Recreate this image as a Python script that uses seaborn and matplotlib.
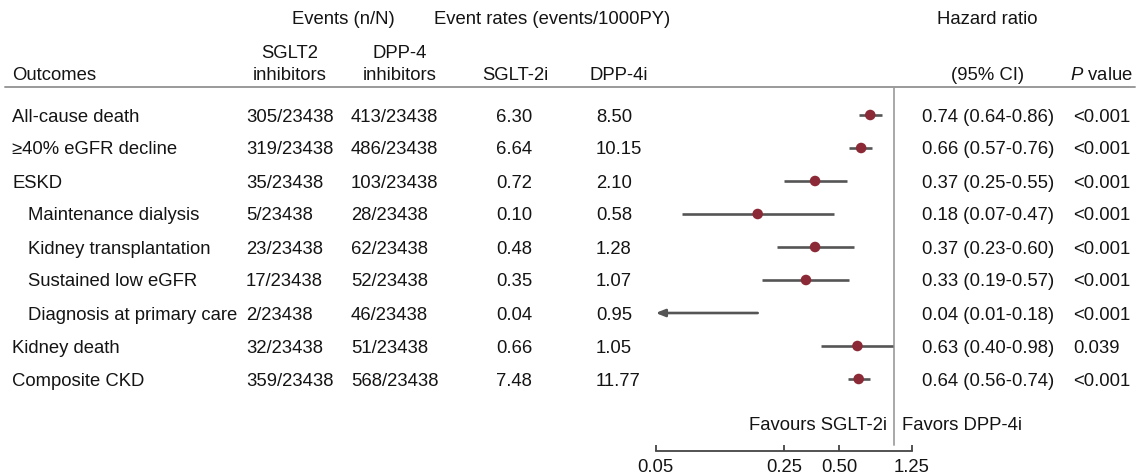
import numpy as np
import pandas as pd
import matplotlib
matplotlib.use("Agg")
import matplotlib.pyplot as plt
import matplotlib.transforms as mtransforms
from matplotlib.lines import Line2D
from matplotlib.ticker import NullLocator
import seaborn as sns

# ---------------- data ----------------
outcomes = ["All-cause death", "\u226540% eGFR decline", "ESKD", "Maintenance dialysis",
            "Kidney transplantation", "Sustained low eGFR", "Diagnosis at primary care",
            "Kidney death", "Composite CKD"]
sub_level = [0, 0, 0, 1, 1, 1, 1, 0, 0]
events_sglt2 = ["305/23438", "319/23438", "35/23438", "5/23438", "23/23438", "17/23438",
                "2/23438", "32/23438", "359/23438"]
events_dpp4 = ["413/23438", "486/23438", "103/23438", "28/23438", "62/23438", "52/23438",
               "46/23438", "51/23438", "568/23438"]
rate_sglt2 = ["6.30", "6.64", "0.72", "0.10", "0.48", "0.35", "0.04", "0.66", "7.48"]
rate_dpp4 = ["8.50", "10.15", "2.10", "0.58", "1.28", "1.07", "0.95", "1.05", "11.77"]
hr = [0.74, 0.66, 0.37, 0.18, 0.37, 0.33, 0.04, 0.63, 0.64]
ci_low = [0.64, 0.57, 0.25, 0.07, 0.23, 0.19, 0.01, 0.40, 0.56]
ci_high = [0.86, 0.76, 0.55, 0.47, 0.60, 0.57, 0.18, 0.98, 0.74]
p_values = ["<0.001", "<0.001", "<0.001", "<0.001", "<0.001", "<0.001", "<0.001", "0.039", "<0.001"]
tick_values = [0.05, 0.25, 0.50, 1.25]
tick_labels = ["0.05", "0.25", "0.50", "1.25"]

df = pd.DataFrame({"outcome": outcomes, "hr": hr, "lo": ci_low, "hi": ci_high,
                   "row": np.arange(len(outcomes))})

# ---------------- style ----------------
sns.set_theme(style="white")
plt.rcParams["font.family"] = ["Liberation Sans", "DejaVu Sans"]
plt.rcParams["mathtext.fontset"] = "custom"
plt.rcParams["mathtext.rm"] = "Liberation Sans"
plt.rcParams["mathtext.it"] = "Liberation Sans:italic"

W, H = 1139, 476
fig = plt.figure(figsize=(W / 100, H / 100), dpi=100)
fig.patch.set_facecolor("white")

FS = 13.3
TXT = "#141414"
LINEC = "#555555"
DOTC = "#8b2a36"
TEXT_DY = 2.0  # px downward shift so glyph centres sit on the row centre

ax_left, ax_right, ax_top, ax_bot = 655.7, 912.0, 87.0, 451.0
ax = fig.add_axes([ax_left / W, 1 - ax_bot / H, (ax_right - ax_left) / W, (ax_bot - ax_top) / H])
ax.set_facecolor("none")

row0_px, row_step = 115.0, 33.0
ax.set_xscale("log")
ax.set_xlim(tick_values[0], tick_values[-1])
ax.set_ylim((ax_bot - row0_px) / row_step, (ax_top - row0_px) / row_step)

# reference line at HR = 1
ax.axvline(1.0, ymin=(ax_bot - 445) / (ax_bot - ax_top), ymax=1, color="#a8a8a8", lw=1.4, zorder=1)

# CI lines
xmin = ax.get_xlim()[0]
inside = df[df["lo"] >= xmin]
ax.hlines(inside["row"], inside["lo"], inside["hi"], color=LINEC, lw=1.9, zorder=2)
for _, r in df[df["lo"] < xmin].iterrows():
    ax.annotate("", xy=(xmin, r["row"]), xytext=(r["hi"], r["row"]),
                arrowprops=dict(arrowstyle="-|>,head_length=0.45,head_width=0.18", color=LINEC,
                                lw=1.9, shrinkA=0, shrinkB=0, mutation_scale=12),
                annotation_clip=False)

sns.scatterplot(data=df, x="hr", y="row", ax=ax, color=DOTC, s=58, edgecolor="none",
                zorder=3, legend=False)

ax.set_xticks(tick_values)
ax.set_xticklabels(tick_labels)
ax.xaxis.set_minor_locator(NullLocator())
ax.set_yticks([])
ax.set_xlabel("")
ax.set_ylabel("")
for s in ["left", "top", "right"]:
    ax.spines[s].set_visible(False)
ax.spines["bottom"].set_color("#444444")
ax.spines["bottom"].set_linewidth(1.3)
ax.tick_params(axis="x", direction="in", length=4.5, width=1.3, color="#444444",
               pad=5.5, labelsize=FS, labelcolor=TXT, bottom=True)

# ---------------- table text ----------------
trans = mtransforms.offset_copy(
    mtransforms.blended_transform_factory(fig.transFigure, ax.transData),
    fig=fig, x=0, y=-TEXT_DY, units="dots")

def fx(px):
    return px / W

def fy(py):
    return 1 - (py + TEXT_DY) / H

for i in range(len(outcomes)):
    x_out = 28 if sub_level[i] else 12
    ax.text(fx(x_out), i, outcomes[i], transform=trans, ha="left", va="center",
            fontsize=FS, color=TXT, clip_on=False)
    ax.text(fx(246), i, events_sglt2[i], transform=trans, ha="left", va="center",
            fontsize=FS, color=TXT, clip_on=False)
    ax.text(fx(351), i, events_dpp4[i], transform=trans, ha="left", va="center",
            fontsize=FS, color=TXT, clip_on=False)
    ax.text(fx(496), i, rate_sglt2[i], transform=trans, ha="left", va="center",
            fontsize=FS, color=TXT, clip_on=False)
    ax.text(fx(596), i, rate_dpp4[i], transform=trans, ha="left", va="center",
            fontsize=FS, color=TXT, clip_on=False)
    ax.text(fx(922), i, f"{hr[i]:.2f} ({ci_low[i]:.2f}-{ci_high[i]:.2f})", transform=trans,
            ha="left", va="center", fontsize=FS, color=TXT, clip_on=False)
    ax.text(fx(1073), i, p_values[i], transform=trans, ha="left", va="center",
            fontsize=FS, color=TXT, clip_on=False)

# headers
hdr = dict(fontsize=FS, color=TXT, va="center")
fig.text(fx(343), fy(18), "Events (n/N)", ha="center", **hdr)
fig.text(fx(552), fy(18), "Event rates (events/1000PY)", ha="center", **hdr)
fig.text(fx(987), fy(18), "Hazard ratio", ha="center", **hdr)
fig.text(fx(290), fy(51), "SGLT2", ha="center", **hdr)
fig.text(fx(290), fy(74), "inhibitors", ha="center", **hdr)
fig.text(fx(400), fy(51), "DPP-4", ha="center", **hdr)
fig.text(fx(400), fy(74), "inhibitors", ha="center", **hdr)
fig.text(fx(12), fy(73), "Outcomes", ha="left", **hdr)
fig.text(fx(515), fy(73), "SGLT-2i", ha="center", **hdr)
fig.text(fx(619), fy(73), "DPP-4i", ha="center", **hdr)
fig.text(fx(988), fy(73), "(95% CI)", ha="center", **hdr)
fig.text(fx(1070), fy(73), r"$\mathit{P}$ value", ha="left", **hdr)

# header rule
fig.add_artist(Line2D([fx(5), fx(1135)], [1 - 87 / H, 1 - 87 / H], transform=fig.transFigure,
                      color="#9a9a9a", lw=1.4))

# favours labels
fig.text(fx(887), fy(423), "Favours SGLT-2i", ha="right", **hdr)
fig.text(fx(902), fy(423), "Favors DPP-4i", ha="left", **hdr)

fig.savefig("out.png", dpi=100, facecolor="white")
